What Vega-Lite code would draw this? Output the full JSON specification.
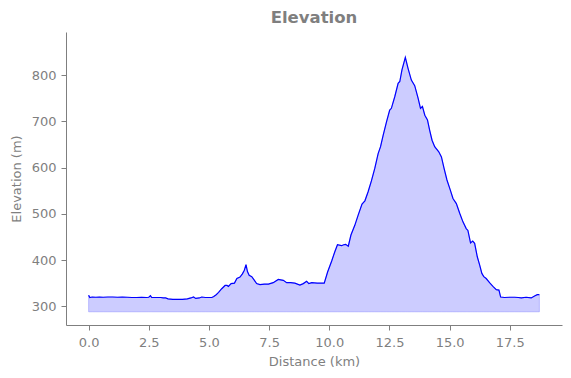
{
  "$schema": "https://vega.github.io/schema/vega-lite/v6.json",
  "width": 496,
  "height": 293,
  "autosize": {"type": "none"},
  "padding": {"left": 66, "top": 32, "right": 9, "bottom": 53},
  "background": "white",
  "config": {
    "view": {"stroke": null},
    "font": "DejaVu Sans",
    "axis": {
      "grid": false,
      "domainColor": "#7f7f7f",
      "tickColor": "#7f7f7f",
      "labelColor": "#7f7f7f",
      "titleColor": "#7f7f7f",
      "labelFont": "DejaVu Sans",
      "titleFont": "DejaVu Sans",
      "labelFontSize": 13,
      "titleFontSize": 13,
      "titleFontWeight": "normal",
      "tickSize": 5,
      "domainWidth": 1,
      "tickWidth": 1
    }
  },
  "title": {
    "text": "Elevation",
    "font": "DejaVu Sans",
    "fontSize": 16.5,
    "fontWeight": "bold",
    "color": "#7f7f7f",
    "anchor": "middle",
    "offset": 6
  },
  "data": {
    "values": [
      {"km": 0.00, "elev": 324}, {"km": 0.05, "elev": 319}, {"km": 0.15, "elev": 320}, {"km": 0.3, "elev": 319.5},
      {"km": 0.45, "elev": 320}, {"km": 0.6, "elev": 319.5}, {"km": 0.8, "elev": 320}, {"km": 1.0, "elev": 320},
      {"km": 1.2, "elev": 319.5}, {"km": 1.4, "elev": 320}, {"km": 1.6, "elev": 319.5}, {"km": 1.8, "elev": 319},
      {"km": 2.0, "elev": 319}, {"km": 2.2, "elev": 319.5}, {"km": 2.4, "elev": 319}, {"km": 2.5, "elev": 319.5},
      {"km": 2.57, "elev": 323}, {"km": 2.62, "elev": 319}, {"km": 2.8, "elev": 319}, {"km": 3.0, "elev": 319},
      {"km": 3.1, "elev": 318}, {"km": 3.2, "elev": 318}, {"km": 3.3, "elev": 316}, {"km": 3.5, "elev": 315},
      {"km": 3.7, "elev": 315}, {"km": 3.9, "elev": 315}, {"km": 4.1, "elev": 316}, {"km": 4.25, "elev": 318},
      {"km": 4.36, "elev": 320}, {"km": 4.45, "elev": 317}, {"km": 4.6, "elev": 318}, {"km": 4.7, "elev": 320},
      {"km": 4.85, "elev": 319}, {"km": 5.0, "elev": 319}, {"km": 5.12, "elev": 319}, {"km": 5.2, "elev": 321},
      {"km": 5.3, "elev": 325}, {"km": 5.4, "elev": 330}, {"km": 5.53, "elev": 338}, {"km": 5.67, "elev": 345},
      {"km": 5.75, "elev": 345}, {"km": 5.81, "elev": 343}, {"km": 5.92, "elev": 349}, {"km": 6.06, "elev": 350},
      {"km": 6.16, "elev": 360}, {"km": 6.29, "elev": 363}, {"km": 6.39, "elev": 370}, {"km": 6.47, "elev": 378},
      {"km": 6.54, "elev": 390}, {"km": 6.6, "elev": 375}, {"km": 6.67, "elev": 367}, {"km": 6.78, "elev": 364},
      {"km": 6.89, "elev": 356}, {"km": 6.98, "elev": 349}, {"km": 7.12, "elev": 347}, {"km": 7.3, "elev": 348},
      {"km": 7.47, "elev": 348}, {"km": 7.67, "elev": 351}, {"km": 7.88, "elev": 358}, {"km": 8.09, "elev": 356},
      {"km": 8.23, "elev": 351}, {"km": 8.4, "elev": 351}, {"km": 8.57, "elev": 350}, {"km": 8.78, "elev": 346},
      {"km": 8.92, "elev": 349}, {"km": 9.06, "elev": 354}, {"km": 9.15, "elev": 349}, {"km": 9.27, "elev": 351},
      {"km": 9.5, "elev": 350}, {"km": 9.79, "elev": 350}, {"km": 9.93, "elev": 374}, {"km": 10.1, "elev": 398},
      {"km": 10.23, "elev": 418}, {"km": 10.34, "elev": 433}, {"km": 10.51, "elev": 431}, {"km": 10.6, "elev": 433},
      {"km": 10.68, "elev": 434}, {"km": 10.79, "elev": 430}, {"km": 10.9, "elev": 454}, {"km": 11.06, "elev": 475},
      {"km": 11.2, "elev": 497}, {"km": 11.36, "elev": 521}, {"km": 11.48, "elev": 528}, {"km": 11.61, "elev": 547},
      {"km": 11.75, "elev": 571}, {"km": 11.89, "elev": 598}, {"km": 12.03, "elev": 630}, {"km": 12.13, "elev": 645},
      {"km": 12.24, "elev": 670}, {"km": 12.38, "elev": 699}, {"km": 12.51, "elev": 724}, {"km": 12.58, "elev": 728},
      {"km": 12.72, "elev": 753}, {"km": 12.86, "elev": 782}, {"km": 12.93, "elev": 786}, {"km": 13.02, "elev": 811},
      {"km": 13.16, "elev": 838}, {"km": 13.27, "elev": 815}, {"km": 13.41, "elev": 789}, {"km": 13.55, "elev": 777},
      {"km": 13.69, "elev": 750}, {"km": 13.79, "elev": 728}, {"km": 13.87, "elev": 732}, {"km": 13.97, "elev": 713},
      {"km": 14.08, "elev": 703}, {"km": 14.17, "elev": 681}, {"km": 14.27, "elev": 659}, {"km": 14.38, "elev": 645},
      {"km": 14.55, "elev": 634}, {"km": 14.66, "elev": 623}, {"km": 14.77, "elev": 598}, {"km": 14.89, "elev": 573},
      {"km": 15.03, "elev": 551}, {"km": 15.14, "elev": 533}, {"km": 15.28, "elev": 522}, {"km": 15.42, "elev": 501},
      {"km": 15.55, "elev": 483}, {"km": 15.69, "elev": 468}, {"km": 15.76, "elev": 464}, {"km": 15.87, "elev": 437},
      {"km": 15.96, "elev": 441}, {"km": 16.04, "elev": 436}, {"km": 16.15, "elev": 407}, {"km": 16.25, "elev": 389},
      {"km": 16.34, "elev": 371}, {"km": 16.42, "elev": 364}, {"km": 16.52, "elev": 360}, {"km": 16.66, "elev": 351},
      {"km": 16.8, "elev": 343}, {"km": 16.94, "elev": 336}, {"km": 17.05, "elev": 335}, {"km": 17.12, "elev": 320},
      {"km": 17.28, "elev": 319}, {"km": 17.5, "elev": 319.5}, {"km": 17.7, "elev": 319.5}, {"km": 17.85, "elev": 319},
      {"km": 17.98, "elev": 318}, {"km": 18.18, "elev": 319.5}, {"km": 18.39, "elev": 318}, {"km": 18.53, "elev": 322},
      {"km": 18.64, "elev": 325}, {"km": 18.73, "elev": 325}
    ]
  },
  "encoding": {
    "x": {
      "field": "km",
      "type": "quantitative",
      "scale": {"domain": [-0.94, 19.67], "nice": false, "zero": false},
      "axis": {"title": "Distance (km)", "values": [0, 2.5, 5, 7.5, 10, 12.5, 15, 17.5], "format": ".1f", "labelPadding": 6, "titlePadding": 6}
    },
    "y": {
      "field": "elev",
      "type": "quantitative",
      "scale": {"domain": [259.5, 893], "nice": false, "zero": false},
      "axis": {"title": "Elevation (m)", "values": [300, 400, 500, 600, 700, 800], "labelPadding": 5, "titlePadding": 8}
    }
  },
  "layer": [
    {
      "mark": {"type": "area", "fill": "blue", "fillOpacity": 0.2, "stroke": "blue", "strokeOpacity": 0.2, "strokeWidth": 1},
      "encoding": {"y2": {"datum": 288}}
    },
    {
      "mark": {"type": "line", "color": "blue", "strokeWidth": 1.2}
    }
  ]
}
